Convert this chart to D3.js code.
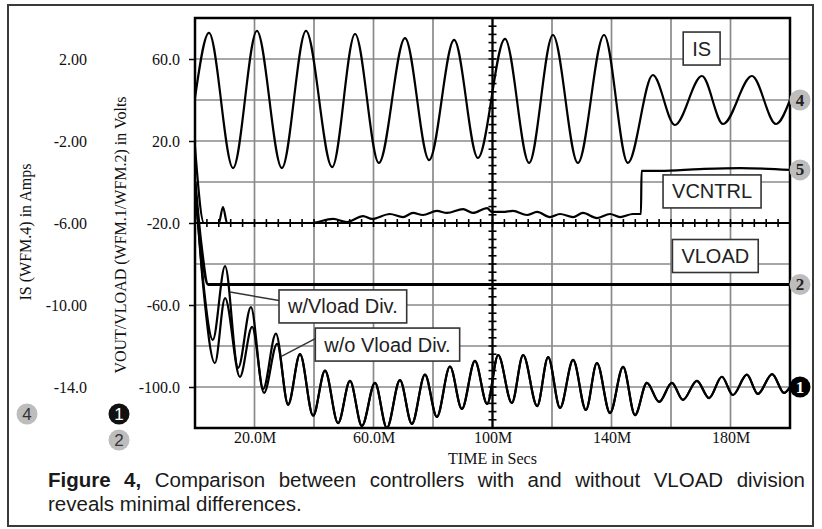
<!DOCTYPE html>
<html>
<head>
<meta charset="utf-8">
<script src="https://cdn.jsdelivr.net/npm/d3@7"></script>
<style>
  body { margin: 0; background: #fff; }
  svg { display: block; }
</style>
</head>
<body>
<div id="chart"></div>
<script>
// Waveform readings, [time in M-secs, value]
const isWave = [[0,0.1],[4.7,3.27],[12.8,-3.32],[20.8,3.37],[29.2,-3.32],[37.3,3.37],[46.1,-3.27],[53.8,3.22],
  [61.8,-3.07],[70.6,3.02],[78.7,-2.93],[87.1,2.93],[95.1,-2.83],[104.2,2.98],[112.3,-3.07],[120.3,3.17],
  [128.7,-3.07],[137.5,3.17],[145.5,-3.07],[153.9,1.22],[161.3,-1.22],[170.4,1.17],[177.5,-1.17],[187.2,1.17],
  [195.3,-1.17],[200,0.0]];

const vcntrlWave = [[0,17.1],[3.0,-20],[8.0,-20],[9.4,-12.2],[10.8,-20],[38.7,-20],[46.4,-18],[51.1,-19.5],
  [56.5,-16.6],[59.5,-18],[65.5,-15.6],[69.9,-17.1],[73.3,-15.1],[76.6,-16.1],[81.3,-14.1],[84.7,-15.1],
  [90.1,-13.2],[93.4,-15.1],[98.2,-12.7],[99.8,-14.6],[103.5,-14.6],[106.9,-14.1],[111.6,-16.1],[115.0,-14.6],
  [119.3,-17.1],[122.7,-15.6],[127.1,-17.1],[130.4,-15.1],[135.1,-17.6],[139.5,-15.6],[142.9,-17.1],
  [147.2,-15.6],[149.9,-15.6],[150.1,5.4],[156.3,5.4],[169.7,6.3],[183.2,6.8],[200,5.9]];

const vloadWave = [[0,0],[2.0,-30],[4.4,-50],[200,-50]];

const voutWithStart = [[0,0],[2.7,-47.8],[6.0,-77],[10.1,-41],[14.5,-90.7],[18.8,-61],[22.9,-101],
  [27.2,-74],[31.3,-108.3]];
const voutWithoutStart = [[0,0],[2.7,-50],[6.7,-88.3],[10.1,-56.6],[15.1,-95.1],[19.2,-70.7],[23.2,-102.9],
  [27.6,-79],[31.3,-108.8]];
const voutTail = [[35.3,-84],[39.7,-114],[43.7,-92],[48.1,-117.6],[52.1,-97],[56.1,-119],[60.5,-98],
  [64.5,-120],[68.9,-96.6],[72.9,-118],[77.3,-94],[81.3,-114.6],[85.7,-90],[89.7,-110.7],[94.1,-87.3],
  [98.2,-108.3],[101.9,-84.4],[106.5,-107.8],[110.3,-84.4],[115.0,-109.3],[118.7,-85.4],[122.7,-110.2],
  [127.1,-86.8],[131.4,-111.2],[135.1,-88.3],[139.5,-112.7],[143.9,-90.2],[147.9,-113.7],[151.9,-98],
  [156.0,-107.3],[160.3,-98],[164.0,-106.3],[168.7,-97],[172.8,-105.4],[177.1,-95],[180.8,-103.9],
  [185.5,-94],[189.2,-103.4],[194.0,-93.7],[198.0,-102.9],[200,-100]];

const timeTicks = [20, 60, 100, 140, 180];
const timeTickLabels = ["20.0M", "60.0M", "100M", "140M", "180M"];
const voltTicks = [60, 20, -20, -60, -100];
const voltTickLabels = ["60.0", "20.0", "-20.0", "-60.0", "-100.0"];
const ampTicks = [2, -2, -6, -10, -14];
const ampTickLabels = ["2.00", "-2.00", "-6.00", "-10.00", "-14.0"];

// annotation boxes, centre in [time, volts]
const boxLabels = [
  { text: "IS", t: 170.3, v: 65.1 },
  { text: "VCNTRL", t: 173.8, v: -4.6 },
  { text: "VLOAD", t: 174.9, v: -36.1 },
  { text: "w/Vload Div.", t: 49.7, v: -60.7, lead: [11.8, -53.7] },
  { text: "w/o Vload Div.", t: 64.7, v: -79.3, lead: [29.2, -84.9] }
];

const captionBold = "Figure 4,";
const captionLine1 = "Comparison between controllers with and without VLOAD division";
const captionLine2 = "reveals minimal differences.";

const serif = "'Liberation Serif', 'Times New Roman', serif";
const sans = "'Liberation Sans', Arial, sans-serif";

const W = 822, H = 529;
const svg = d3.select("#chart").append("svg")
    .attr("width", W)
    .attr("height", H);

svg.append("rect").attr("width", W).attr("height", H).attr("fill", "#fff");

// outer frame
svg.append("rect")
    .attr("x", 8).attr("y", 5)
    .attr("width", 805).attr("height", 521)
    .attr("fill", "none")
    .attr("stroke", "#3a3a3a")
    .attr("stroke-width", 2);

const x = d3.scaleLinear().domain([0, 200]).range([195, 790]);
const yV = d3.scaleLinear().domain([-120, 80]).range([428, 18]);
const yA = d3.scaleLinear().domain([-16, 4]).range([428, 18]);

// grid
const grid = svg.append("g")
    .attr("stroke", "#8a8a8a")
    .attr("stroke-width", 1.7);
grid.selectAll("line.v")
    .data(d3.range(20, 200, 20))
    .join("line")
    .attr("class", "v")
    .attr("x1", d => x(d)).attr("x2", d => x(d))
    .attr("y1", yV(80)).attr("y2", yV(-120));
grid.selectAll("line.h")
    .data(d3.range(-100, 80, 20))
    .join("line")
    .attr("class", "h")
    .attr("x1", x(0)).attr("x2", x(200))
    .attr("y1", d => yV(d)).attr("y2", d => yV(d));

// centre axes with minor ticks
const centre = svg.append("g").attr("stroke", "#000");
centre.append("line")
    .attr("x1", x(0)).attr("x2", x(200))
    .attr("y1", yV(-20)).attr("y2", yV(-20))
    .attr("stroke-width", 2.2);
centre.append("line")
    .attr("x1", x(100)).attr("x2", x(100))
    .attr("y1", yV(80)).attr("y2", yV(-120))
    .attr("stroke-width", 2.2);
centre.selectAll("line.tx")
    .data(d3.range(4, 200, 4))
    .join("line")
    .attr("class", "tx")
    .attr("x1", d => x(d)).attr("x2", d => x(d))
    .attr("y1", yV(-20) - 4).attr("y2", yV(-20) + 4)
    .attr("stroke-width", 1.6);
centre.selectAll("line.ty")
    .data(d3.range(-116, 80, 4))
    .join("line")
    .attr("class", "ty")
    .attr("x1", x(100) - 4).attr("x2", x(100) + 4)
    .attr("y1", d => yV(d)).attr("y2", d => yV(d))
    .attr("stroke-width", 1.6);

// axes
const voltAxis = svg.append("g")
    .attr("transform", `translate(${x(0)},0)`)
    .call(d3.axisLeft(yV).tickValues(voltTicks).tickFormat((d, i) => voltTickLabels[i])
        .tickSize(6).tickPadding(9));
const ampAxis = svg.append("g")
    .attr("transform", "translate(88,0)")
    .call(d3.axisLeft(yA).tickValues(ampTicks).tickFormat((d, i) => ampTickLabels[i])
        .tickSize(0).tickPadding(1));
const timeAxis = svg.append("g")
    .attr("transform", `translate(0,${yV(-120)})`)
    .call(d3.axisBottom(x).tickValues(timeTicks).tickFormat((d, i) => timeTickLabels[i])
        .tickSize(0).tickPadding(4));

[voltAxis, ampAxis, timeAxis].forEach(a => {
    a.select(".domain").remove();
    a.selectAll("line").attr("stroke", "#000").attr("stroke-width", 1.5);
    a.selectAll("text")
        .style("font-family", serif)
        .style("font-size", "16px")
        .attr("fill", "#111");
});
ampAxis.selectAll("line").remove();

// axis titles
svg.append("text")
    .attr("transform", "translate(27,232) rotate(-90)")
    .attr("text-anchor", "middle")
    .attr("dominant-baseline", "middle")
    .style("font-family", serif).style("font-size", "16px").attr("fill", "#111")
    .text("IS (WFM.4) in Amps");
svg.append("text")
    .attr("transform", "translate(122,235) rotate(-90)")
    .attr("text-anchor", "middle")
    .attr("dominant-baseline", "middle")
    .style("font-family", serif).style("font-size", "16px").attr("fill", "#111")
    .text("VOUT/VLOAD (WFM.1/WFM.2) in Volts");
svg.append("text")
    .attr("x", x(100)).attr("y", 464)
    .attr("text-anchor", "middle")
    .style("font-family", serif).style("font-size", "16px").attr("fill", "#111")
    .text("TIME in Secs");

// waveforms
svg.append("clipPath").attr("id", "plotClip")
  .append("rect")
    .attr("x", x(0)).attr("y", yV(80))
    .attr("width", x(200) - x(0)).attr("height", yV(-120) - yV(80));

const plot = svg.append("g").attr("clip-path", "url(#plotClip)");
const lineV = d3.line().x(d => x(d[0])).y(d => yV(d[1])).curve(d3.curveMonotoneX);
const lineA = d3.line().x(d => x(d[0])).y(d => yA(d[1])).curve(d3.curveMonotoneX);

const waves = [
    { data: isWave, gen: lineA },
    { data: vcntrlWave, gen: lineV },
    { data: vloadWave, gen: lineV, width: 3 },
    { data: voutWithoutStart.concat(voutTail), gen: lineV },
    { data: voutWithStart.concat(voutTail), gen: lineV }
];
plot.selectAll("path.wave")
    .data(waves)
    .join("path")
    .attr("class", "wave")
    .attr("d", d => d.gen(d.data))
    .attr("fill", "none")
    .attr("stroke", "#000")
    .attr("stroke-width", d => d.width || 2.2)
    .attr("stroke-linejoin", "round");

// plot border
svg.append("rect")
    .attr("x", x(0)).attr("y", yV(80))
    .attr("width", x(200) - x(0)).attr("height", yV(-120) - yV(80))
    .attr("fill", "none")
    .attr("stroke", "#000")
    .attr("stroke-width", 2.5);

// annotation boxes
boxLabels.forEach(b => {
    const g = svg.append("g");
    const cx = x(b.t), cy = yV(b.v);
    const txt = g.append("text")
        .attr("x", cx).attr("y", cy)
        .attr("text-anchor", "middle")
        .attr("dominant-baseline", "central")
        .style("font-family", sans).style("font-size", "20px").attr("fill", "#222")
        .text(b.text);
    const w = txt.node().getComputedTextLength() + 18;
    const h = 33;
    if (b.lead) {
        g.insert("line", "text")
            .attr("x1", x(b.lead[0])).attr("y1", yV(b.lead[1]))
            .attr("x2", cx - w / 2).attr("y2", cy - 6)
            .attr("stroke", "#333").attr("stroke-width", 1.5);
    }
    g.insert("rect", "text")
        .attr("x", cx - w / 2).attr("y", cy - h / 2)
        .attr("width", w).attr("height", h)
        .attr("fill", "#fff")
        .attr("stroke", "#333")
        .attr("stroke-width", 1.6);
});

// waveform markers at the right edge
const markers = [
    { id: "4", y: yA(isWave[isWave.length - 1][1]), dark: false },
    { id: "5", y: yV(vcntrlWave[vcntrlWave.length - 1][1]), dark: false },
    { id: "2", y: yV(vloadWave[vloadWave.length - 1][1]), dark: false },
    { id: "1", y: yV(voutTail[voutTail.length - 1][1]), dark: true }
];
const mk = svg.selectAll("g.marker")
    .data(markers)
    .join("g")
    .attr("class", "marker")
    .attr("transform", d => `translate(${x(200) + 10},${d.y})`);
mk.append("circle").attr("r", 10.5).attr("fill", d => d.dark ? "#000" : "#bdbdbd");
mk.append("text")
    .attr("text-anchor", "middle")
    .attr("dominant-baseline", "central")
    .style("font-family", serif).style("font-size", "17px").style("font-weight", "bold")
    .attr("fill", d => d.dark ? "#fff" : "#222")
    .text(d => d.id);

// axis legend markers on the left
const legendMarks = [
    { id: "4", x: 27, y: 414, dark: false },
    { id: "1", x: 119, y: 414, dark: true },
    { id: "2", x: 119, y: 440, dark: false }
];
const lm = svg.selectAll("g.legendmark")
    .data(legendMarks)
    .join("g")
    .attr("class", "legendmark")
    .attr("transform", d => `translate(${d.x},${d.y})`);
lm.append("circle").attr("r", 10.5).attr("fill", d => d.dark ? "#111" : "#bdbdbd");
lm.append("text")
    .attr("text-anchor", "middle")
    .attr("dominant-baseline", "central")
    .style("font-family", sans).style("font-size", "17px")
    .attr("fill", d => d.dark ? "#fff" : "#333")
    .text(d => d.id);

// caption, first line justified
const cap = svg.append("g")
    .style("font-family", sans).style("font-size", "20.5px").attr("fill", "#1a1a1a");

function justifyLine(parts, x0, x1, y) {
    const words = [];
    parts.forEach(p => p.text.split(" ").filter(w => w).forEach(w => words.push({ w, bold: p.bold })));
    const nodes = words.map(d => cap.append("text")
        .attr("y", y)
        .style("font-weight", d.bold ? "bold" : "normal")
        .text(d.w));
    const widths = nodes.map(n => n.node().getComputedTextLength());
    const gap = (x1 - x0 - d3.sum(widths)) / (words.length - 1);
    let cx = x0;
    nodes.forEach((n, i) => { n.attr("x", cx); cx += widths[i] + gap; });
}
justifyLine([{ text: captionBold, bold: true }, { text: captionLine1, bold: false }], 48, 805, 487);
cap.append("text").attr("x", 48).attr("y", 511).text(captionLine2);
</script>
</body>
</html>
